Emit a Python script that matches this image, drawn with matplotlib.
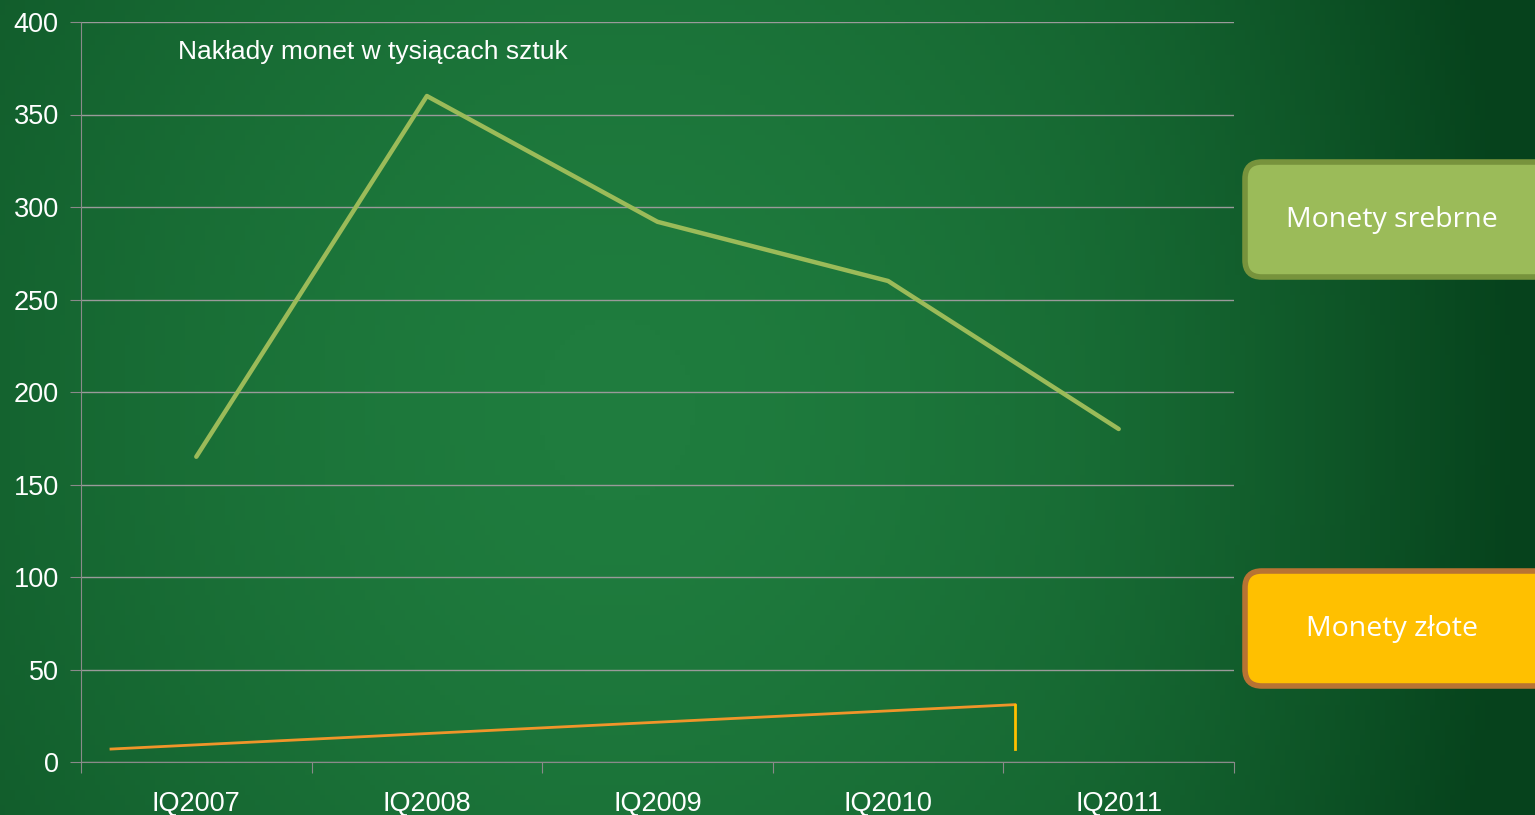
import numpy as np
import matplotlib.pyplot as plt
from matplotlib.patches import FancyBboxPatch

plt.rcParams['font.family'] = ['Liberation Sans', 'DejaVu Sans']

# dane
kwartaly = ['IQ2007', 'IQ2008', 'IQ2009', 'IQ2010', 'IQ2011']
srebrne = [165, 360, 292, 260, 180]
# monety zlote - linia zaczyna sie przed IQ2007 i konczy przed IQ2011
zlote_x = [-0.37, 3.55]
zlote_y = [7, 31]
zlote_spadek = [31, 7]

fig = plt.figure(figsize=(15.35, 8.15), dpi=100)

# tlo - zielony gradient
bg = fig.add_axes([0, 0, 1, 1])
h, w = 163, 307
yy, xx = np.mgrid[0:h, 0:w]
xn, yn = xx / w, yy / h
d = np.sqrt(((xn - 0.4) * 1.0) ** 2 + ((yn - 0.5) * 0.45) ** 2)
t = np.clip((d - 0.05) / 0.65, 0, 1) ** 1.4
t = np.clip(t + np.clip((xn - 0.68) / 0.32, 0, 1) ** 1.5 * 0.25, 0, 1)
c0 = np.array([31, 124, 62]) / 255.
c1 = np.array([6, 66, 28]) / 255.
img = c0[None, None, :] * (1 - t[..., None]) + c1[None, None, :] * t[..., None]
bg.imshow(img, aspect='auto', extent=[0, 1, 0, 1], origin='upper')
bg.set_axis_off()

ax = fig.add_axes([81 / 1535, 1 - 762 / 815, (1234 - 81) / 1535, (762 - 22) / 815])
ax.patch.set_alpha(0)
x = np.arange(len(kwartaly))
ax.plot(x, srebrne, color='#9BBB59', lw=3.2, solid_capstyle='round', zorder=3)
ax.plot(zlote_x, zlote_y, color='#F0952A', lw=2, zorder=3)
ax.plot([zlote_x[-1], zlote_x[-1]], zlote_spadek, color='#FFC000', lw=2, zorder=3)

ax.set_xlim(-0.5, 4.5)
ax.set_ylim(0, 400)
ax.set_yticks(np.arange(0, 401, 50))
ax.yaxis.grid(True, color='#9a9a9a', lw=1)
ax.set_axisbelow(True)
ax.set_xticks(np.arange(-0.5, 4.6, 1))
ax.set_xticklabels([])
ax.set_xticks(x, minor=True)
ax.set_xticklabels(kwartaly, minor=True)
ax.tick_params(axis='x', which='minor', length=0, pad=21, labelsize=19.5, labelcolor='white')
ax.tick_params(axis='x', which='major', length=8, color='#8a8a8a', direction='out')
ax.tick_params(axis='y', length=8, color='#8a8a8a', labelsize=19.5, labelcolor='white', pad=8)
for s in ['top', 'right']:
    ax.spines[s].set_visible(False)
for s in ['left', 'bottom']:
    ax.spines[s].set_color('#8a8a8a')

ax.text(0.084, 0.959, 'Nakłady monet w tysiącach sztuk', transform=ax.transAxes,
        color='white', fontsize=19, va='center', ha='left')

# pola z opisami
bg.add_patch(FancyBboxPatch((1245 / 1535, 1 - 277 / 815), 320 / 1535, 115 / 815,
                            boxstyle='round,pad=0,rounding_size=0.011', fc='#9BBB59', ec='#77933C',
                            lw=4, transform=bg.transAxes, clip_on=False, mutation_aspect=1.88))
bg.text(1392 / 1535, 1 - 220 / 815, 'Monety srebrne', transform=bg.transAxes, color='white',
        fontsize=20.5, ha='center', va='center', family=['Open Sans', 'DejaVu Sans'])
bg.add_patch(FancyBboxPatch((1245 / 1535, 1 - 686 / 815), 320 / 1535, 115 / 815,
                            boxstyle='round,pad=0,rounding_size=0.011', fc='#FFC000', ec='#B87333',
                            lw=4, transform=bg.transAxes, clip_on=False, mutation_aspect=1.88))
bg.text(1392 / 1535, 1 - 629 / 815, 'Monety złote', transform=bg.transAxes, color='white',
        fontsize=20.5, ha='center', va='center', family=['Open Sans', 'DejaVu Sans'])

fig.savefig('out.png', dpi=100)
